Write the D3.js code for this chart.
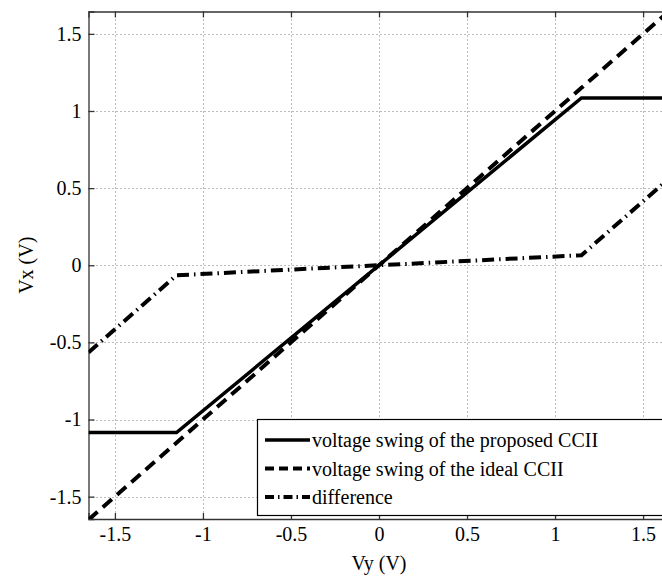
<!DOCTYPE html>
<html><head><meta charset="utf-8">
<script src="https://cdn.jsdelivr.net/npm/d3@7"></script>
<style>body{margin:0;background:#fff}svg{display:block}
svg text{font-family:"Liberation Serif","Times New Roman",Tinos,"DejaVu Serif","Noto Serif",serif !important;fill:#000}</style>
</head><body><svg id="c" width="662" height="577"></svg>
<script>
const vy = [-1.65, -1.15, 1.15, 1.65];
const proposed = [-1.085, -1.085, 1.085, 1.085];
const ideal = [-1.65, -1.15, 1.15, 1.65];
const difference = [-0.565, -0.065, 0.065, 0.565];
const xTicks = [-1.5, -1, -0.5, 0, 0.5, 1, 1.5];
const yTicks = [-1.5, -1, -0.5, 0, 0.5, 1, 1.5];
const legendLabels = ["voltage swing of the proposed CCII", "voltage swing of the ideal CCII", "difference"];

const svg = d3.select("#c");
const L = 88.5, R = 669.5, T = 11.5, B = 519;
const x = d3.scaleLinear().domain([-1.65, 1.65]).range([L, R]);
const y = d3.scaleLinear().domain([-1.645, 1.645]).range([B, T]);
const fmt = d => (d === 0 ? "0" : String(d));
const FF = '"Liberation Serif","Times New Roman",Tinos,"DejaVu Serif","Noto Serif",serif';
const FS = 20;

svg.append("defs").append("clipPath").attr("id", "clip")
  .append("rect").attr("x", L).attr("y", T).attr("width", R - L).attr("height", B - T);

// grid
const g = svg.append("g");
g.selectAll(".gx").data(xTicks).join("line")
  .attr("x1", d => Math.round(x(d)) + 0.5).attr("x2", d => Math.round(x(d)) + 0.5)
  .attr("y1", T).attr("y2", B).attr("stroke", "#777").attr("stroke-width", 1).attr("stroke-dasharray", "1,3");
g.selectAll(".gy").data(yTicks).join("line")
  .attr("y1", d => Math.round(y(d)) + 0.5).attr("y2", d => Math.round(y(d)) + 0.5)
  .attr("x1", L).attr("x2", R).attr("stroke", "#777").attr("stroke-width", 1).attr("stroke-dasharray", "1,3");

// axes
const axB = d3.axisBottom(x).tickValues(xTicks).tickFormat(fmt).tickSize(-6).tickPadding(8);
const axT = d3.axisTop(x).tickValues(xTicks).tickFormat("").tickSize(-6);
const axL = d3.axisLeft(y).tickValues(yTicks).tickFormat(fmt).tickSize(-6).tickPadding(7);
function style(sel){
  sel.attr("font-family", FF).attr("font-size", FS);
  sel.selectAll("path").attr("stroke", "#333").attr("stroke-width", 1.3);
  sel.selectAll("line").attr("stroke", "#333").attr("stroke-width", 1.3);
  sel.selectAll("text").attr("font-size", FS);
}
svg.append("g").attr("transform", `translate(0,${B})`).call(axB).call(style);
svg.append("g").attr("transform", `translate(0,${T})`).call(axT).call(style);
svg.append("g").attr("transform", `translate(${L},0)`).call(axL).call(style);

// lines
const line = ys => d3.line().x((d, i) => x(vy[i])).y((d, i) => y(ys[i]))(ys);
const plot = svg.append("g").attr("clip-path", "url(#clip)");
plot.append("path").attr("d", line(ideal)).attr("fill", "none").attr("stroke", "#000")
  .attr("stroke-width", 4).attr("stroke-dasharray", "12,7");
plot.append("path").attr("d", line(proposed)).attr("fill", "none").attr("stroke", "#000")
  .attr("stroke-width", 3.5);
plot.append("path").attr("d", line(difference)).attr("fill", "none").attr("stroke", "#000")
  .attr("stroke-width", 4).attr("stroke-dasharray", "12,5,1.5,5");

// legend
const lg = svg.append("g");
lg.append("rect").attr("x", 257.5).attr("y", 419.5).attr("width", 420).attr("height", 96)
  .attr("fill", "#fff").attr("stroke", "#000").attr("stroke-width", 1.2);
const styles = [{w:3.5, da:null},{w:4, da:"9,5"},{w:4, da:"9,4,1.5,4"}];
legendLabels.forEach((t, i) => {
  const yy = 440 + i * 28.5;
  const ln = lg.append("line").attr("x1", 265).attr("x2", 310).attr("y1", yy).attr("y2", yy)
    .attr("stroke", "#000").attr("stroke-width", styles[i].w);
  if (styles[i].da) ln.attr("stroke-dasharray", styles[i].da);
  lg.append("text").attr("x", 312).attr("y", yy + 7).attr("font-size", FS).text(t);
});

// axis labels
svg.append("text").attr("x", x(0)).attr("y", 570).attr("text-anchor", "middle").attr("font-size", FS).text("Vy (V)");
svg.append("text").attr("transform", `translate(33,${(T + B) / 2}) rotate(-90)`)
  .attr("text-anchor", "middle").attr("font-size", FS).text("Vx (V)");
</script></body></html>
